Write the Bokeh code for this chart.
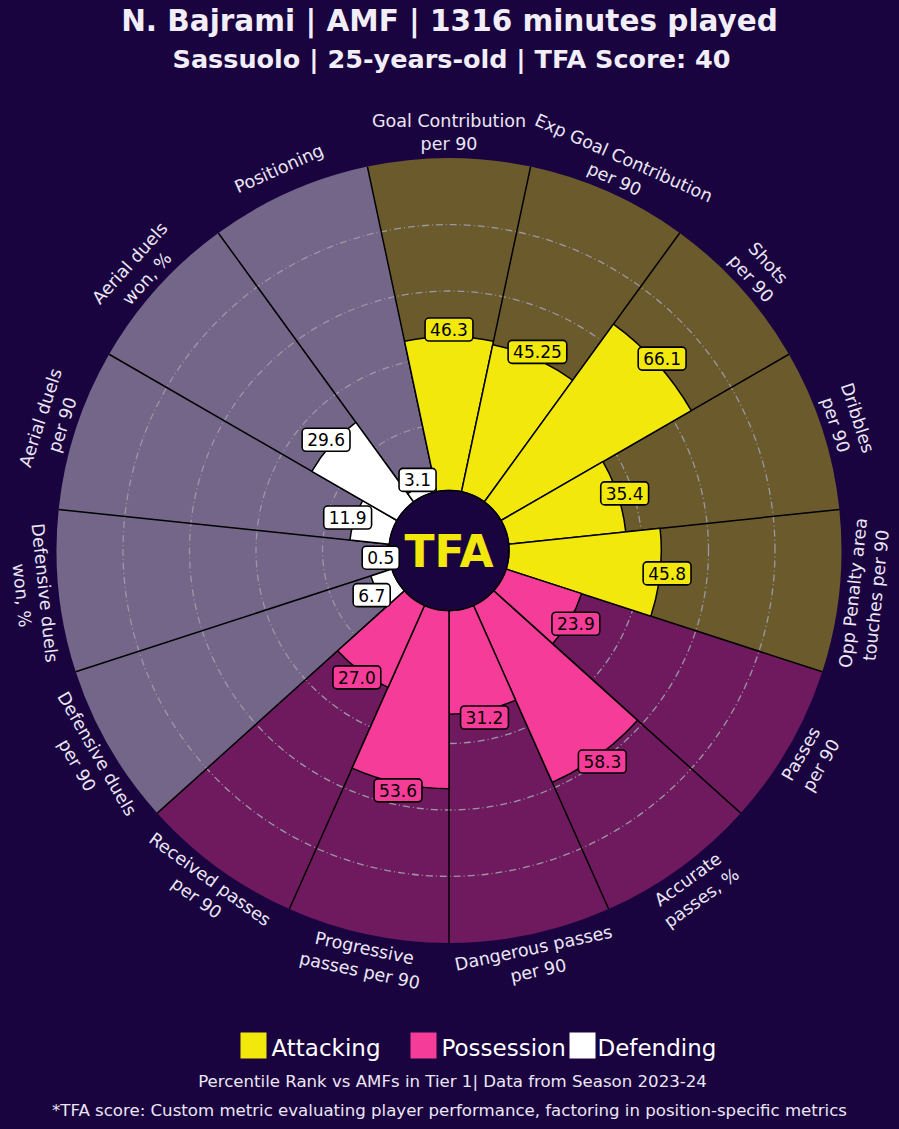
import numpy as np
from bokeh.plotting import figure
from bokeh.models import Range1d
from bokeh.core.properties import value
from bokeh.embed import file_html
from bokeh.resources import INLINE

# ---------------- data ----------------
params = [
    "Goal Contribution\nper 90", "Exp Goal Contribution\nper 90", "Shots\nper 90",
    "Dribbles\nper 90", "Opp Penalty area\ntouches per 90",
    "Passes\nper 90", "Accurate\npasses, %", "Dangerous passes\nper 90",
    "Progressive\npasses per 90", "Received passes\nper 90",
    "Defensive duels\nper 90", "Defensive duels\nwon, %", "Aerial duels\nper 90",
    "Aerial duels\nwon, %", "Positioning",
]
values = [46.3, 45.25, 66.1, 35.4, 45.8, 23.9, 58.3, 31.2, 53.6, 27.0, 6.7, 0.5, 11.9, 29.6, 3.1]
groups = ["Attacking"] * 5 + ["Possession"] * 5 + ["Defending"] * 5
group_names = ["Attacking", "Possession", "Defending"]
grid_levels = [20, 40, 60, 80]

title = "N. Bajrami | AMF | 1316 minutes played"
subtitle = "Sassuolo | 25-years-old | TFA Score: 40"
note1 = "Percentile Rank vs AMFs in Tier 1| Data from Season 2023-24"
note2 = "*TFA score: Custom metric evaluating player performance, factoring in position-specific metrics"

# ---------------- style ----------------
BG = "#1a0440"
bar_col = {"Attacking": "#f2e80c", "Possession": "#f53c98", "Defending": "#ffffff"}
slice_col = {"Attacking": "#6b5a2c", "Possession": "#6f1a5e", "Defending": "#736689"}
TXT = "#ece6f4"
FONT = "DejaVu Sans"

W, H = 899, 1129


def X(rx):
    return rx


def Y(ry):
    return H - ry


CX, CY = X(448.5), Y(550)
R0, R1 = 60.0, 392.5
n = len(params)
step = 360.0 / n
centers = np.array([90 - step * k for k in range(n)])
starts = np.radians(centers - step / 2)
ends = np.radians(centers + step / 2)
vals = np.array(values)
bar_r = R0 + vals / 100.0 * (R1 - R0)

p = figure(width=W, height=H, x_range=Range1d(0, W), y_range=Range1d(0, H),
           output_backend="svg", toolbar_location=None,
           x_axis_location=None, y_axis_location=None,
           background_fill_color=BG, border_fill_color=BG,
           outline_line_color=None, min_border=0)
p.grid.visible = False

# background slices
p.annular_wedge(x=CX, y=CY, inner_radius=R0, outer_radius=R1,
                start_angle=starts, end_angle=ends,
                fill_color=[slice_col[g] for g in groups], line_color=None)

# grid circles
p.arc(x=CX, y=CY, radius=[R0 + lv / 100.0 * (R1 - R0) for lv in grid_levels],
      start_angle=0, end_angle=2 * np.pi, line_color="#9a98a4",
      line_width=1.3, line_dash="7 3 1 3")

# separators
p.segment(x0=CX + R0 * np.cos(starts), y0=CY + R0 * np.sin(starts),
          x1=CX + R1 * np.cos(starts), y1=CY + R1 * np.sin(starts),
          line_color="black", line_width=1.5)

# value bars
p.annular_wedge(x=CX, y=CY, inner_radius=R0, outer_radius=bar_r,
                start_angle=starts, end_angle=ends,
                fill_color=[bar_col[g] for g in groups], line_color="black", line_width=1.5)

# centre circle + logo
p.circle(x=CX, y=CY, radius=R0, fill_color=BG, line_color="black", line_width=1.5)
p.text(x=[CX], y=[CY - 1], text=["TFA"], text_font=value(FONT), text_font_style="bold",
       text_font_size="44px", text_color="#f2e80c", text_align="center",
       text_baseline="middle")

# value boxes
rad = np.radians(centers)
vr = bar_r + 7
p.text(x=CX + vr * np.cos(rad), y=CY + vr * np.sin(rad), text=[str(v) for v in values],
       text_font=value(FONT), text_font_size="17px", text_color="black",
       text_align="center", text_baseline="middle",
       background_fill_color=[bar_col[g] for g in groups],
       border_line_color="black", border_line_width=1.6, padding=5, border_radius=4)

# parameter labels
cn = np.mod(centers, 360)
rot = np.where((cn >= 0) & (cn <= 180), cn - 90, cn - 270)
LR = 418
p.text(x=CX + LR * np.cos(rad), y=CY + LR * np.sin(rad), text=params,
       angle=np.radians(rot), text_font=value(FONT), text_font_size="17.5px",
       text_color=TXT, text_align="center", text_baseline="middle",
       text_line_height=1.15)

# titles
p.text(x=[X(449)], y=[Y(20)], text=[title], text_font=value(FONT), text_font_style="bold",
       text_font_size="29.5px", text_color="#f2eef8", text_align="center", text_baseline="middle")
p.text(x=[X(451)], y=[Y(58)], text=[subtitle], text_font=value(FONT), text_font_style="bold",
       text_font_size="25.5px", text_color="#f2eef8", text_align="center", text_baseline="middle")

# legend
sq_x = [X(253), X(423), X(582)]
p.rect(x=sq_x, y=[Y(1045)] * 3, width=26, height=26,
       fill_color=[bar_col[g] for g in group_names], line_color=None)
p.text(x=[X(271), X(441), X(597)], y=[Y(1047)] * 3, text=group_names,
       text_font=value(FONT), text_font_size="23px", text_color="white",
       text_align="left", text_baseline="middle")

p.text(x=[X(452)], y=[Y(1081)], text=[note1], text_font=value(FONT),
       text_font_size="16.6px", text_color=TXT, text_align="center", text_baseline="middle")
p.text(x=[X(449)], y=[Y(1110)], text=[note2], text_font=value(FONT),
       text_font_size="16.6px", text_color=TXT, text_align="center", text_baseline="middle")

html = file_html(p, INLINE)
html = html.replace("</head>", "<style>body{background:%s;}</style></head>" % BG, 1)
open("out.html", "w").write(html)
